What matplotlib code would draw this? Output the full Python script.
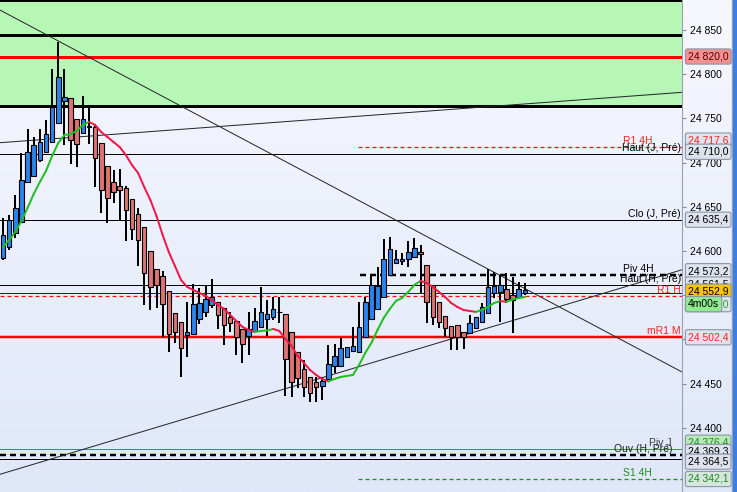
import numpy as np
import matplotlib.pyplot as plt
import matplotlib.transforms as mtransforms
from matplotlib.collections import LineCollection
from matplotlib.patches import Rectangle
from matplotlib.ticker import FuncFormatter

plt.rcParams['font.family'] = ['Liberation Sans', 'DejaVu Sans']
plt.rcParams['lines.scale_dashes'] = False

# ==========================================================
# DATA
# ==========================================================

opens = [24592, 24605, 24620, 24633, 24678, 24685, 24703, 24712, 24723, 24745,
         24770, 24773, 24749, 24733.5, 24741, 24740, 24722, 24696, 24678, 24674,
         24671, 24659, 24642, 24627, 24600, 24580, 24572, 24555, 24530, 24520,
         24505, 24506, 24523, 24531, 24539, 24542, 24536, 24525, 24521, 24512,
         24504, 24509.6, 24514, 24523, 24525, 24531, 24529, 24508, 24486, 24467,
         24457.5, 24452, 24447, 24455, 24470, 24470, 24480, 24487, 24486, 24503,
         24523, 24534.5, 24548, 24573, 24586.5, 24589, 24591, 24593, 24599, 24584,
         24562, 24542, 24526.5, 24515, 24516, 24508, 24507, 24513, 24520, 24530,
         24552.5, 24554, 24557, 24550, 24548, 24552.5]

highs = [24637, 24641, 24663, 24711, 24738, 24729, 24738, 24748, 24806, 24836,
         24806, 24773, 24749, 24775, 24763, 24744, 24722, 24696, 24692, 24693,
         24674, 24659, 24649, 24627, 24600, 24580, 24577, 24555, 24530, 24520,
         24542, 24563, 24558, 24560.5, 24568, 24542, 24536, 24531, 24521, 24512,
         24531, 24536, 24559, 24545, 24548, 24548, 24529, 24508, 24486, 24477,
         24457.5, 24457.5, 24457.5, 24494, 24495, 24502, 24491.5, 24514, 24542, 24548,
         24573, 24582, 24614, 24616, 24601, 24598, 24611, 24615, 24607, 24584,
         24562, 24542, 24526.5, 24515, 24516, 24508, 24528, 24525, 24541, 24580,
         24576, 24573, 24575, 24571, 24565, 24564]

lows = [24590, 24601, 24615, 24632, 24677, 24684, 24701, 24711, 24723, 24745,
        24720, 24698, 24695, 24733.5, 24721, 24672, 24643, 24632, 24654, 24634,
        24611, 24612.5, 24583, 24539, 24533, 24536, 24503, 24486, 24496, 24457.5,
        24480, 24506, 24517.5, 24525, 24536, 24512, 24494, 24508, 24482, 24473,
        24482, 24509.6, 24514, 24504, 24522, 24519, 24436, 24435, 24445, 24435,
        24429, 24429, 24431.5, 24455, 24462, 24470, 24480, 24487, 24486, 24503,
        24523, 24534.5, 24548, 24573, 24586.5, 24584, 24582, 24593, 24552.5, 24519,
        24516, 24513, 24503, 24488, 24488, 24489, 24507, 24513, 24520, 24530,
        24547, 24520, 24541, 24507, 24548, 24550]

closes = [24618, 24635, 24649, 24680, 24712, 24720, 24723, 24732, 24763, 24797,
          24774, 24726, 24721, 24749, 24740, 24705, 24669, 24660, 24667, 24669,
          24646, 24625, 24612.5, 24575, 24559, 24562, 24540, 24506, 24508, 24490,
          24508, 24540, 24541, 24546, 24548, 24528, 24516, 24519, 24503, 24495,
          24512, 24521, 24531, 24529, 24534.5, 24531, 24478, 24452, 24456, 24446,
          24439, 24446, 24453, 24472, 24481, 24490, 24491.5, 24492.6, 24514, 24542,
          24562, 24560.5, 24591, 24602, 24591, 24591, 24599, 24603, 24597, 24542,
          24525, 24520, 24513, 24503, 24503, 24503, 24519, 24525, 24537, 24559,
          24560.5, 24562, 24546, 24545, 24557, 24556]

ma_line = [24604.6, 24612.5, 24621.5, 24634.0, 24648.7, 24664.5, 24678.1, 24690.5, 24707.5, 24722.2,
           24731.2, 24732.4, 24735.8, 24742.6, 24746.0, 24742.6, 24734.6, 24729.0, 24723.3, 24717.7,
           24708.6, 24697.3, 24688.3, 24672.4, 24657.7, 24639.6, 24618.1, 24598.9, 24583.1, 24567.2,
           24559.3, 24555.9, 24552.5, 24549.2, 24544.6, 24539.0, 24534.5, 24527.7, 24520.9, 24514.1,
           24510.7, 24508.4, 24509.6, 24510.1, 24511.8, 24509.6, 24500.5, 24492.6, 24481.3, 24473.4,
           24465.5, 24459.8, 24455.3, 24452.5, 24455.3, 24457.5, 24458.7, 24459.8, 24471.1, 24484.7,
           24496.0, 24510.7, 24524.3, 24534.5, 24543.5, 24546.9, 24553.7, 24561.6, 24566.1, 24563.9,
           24559.3, 24553.7, 24548.0, 24541.2, 24536.7, 24533.3, 24532.2, 24531.1, 24533.3, 24536.7,
           24541.2, 24543.5, 24542.4, 24545.2, 24546.9, 24548.0]

zone_low, zone_high = 24764.4, 24882.8

level_prices = [24844.3, 24820.0, 24717.6, 24710.0, 24635.4, 24573.2, 24561.5,
                24552.9, 24549.0, 24502.4, 24376.4, 24369.3, 24364.5, 24342.1]
level_names = ["", "", "R1 4H", "Haut (J, Pré)", "Clo (J, Pré)", "Piv 4H",
               "Haut (H, Pré)", "", "R1 H", "mR1 M", "Piv J", "Ouv (H, Pré)",
               "", "S1 4H"]

ma_last = 24548.0
countdown = "4m00s"

# trend lines as (bar index, price) end points
trend_lines = [((-0.5, 24872.6), (110.6, 24463.1)),
               ((-0.5, 24722.5), (110.6, 24779.5)),
               ((-0.5, 24347.4), (110.6, 24578.8))]

y_ticks = list(range(24400, 24851, 50))

# ==========================================================
# LAYOUT / STYLE
# ==========================================================

W, H = 737, 492
PLOT_W = 682
BAR_STEP = 6.14


def px_x(px):
    return (px - 3) / BAR_STEP


def pt(px):
    return px * 0.72


# colour, width px, dash px, start px, label anchor, label colour
level_style = [
    ("black", 3, None, 0, None, None),
    ("#ff0000", 3, None, 0, None, None),
    ("#ff1010", 1.3, (4, 3), 358, "L", "#ff2020"),
    ("black", 1, None, 0, "R", "black"),
    ("black", 1, None, 0, "R", "black"),
    ("black", 2.5, (6, 4), 360, "L", "black"),
    ("black", 1, None, 0, "R", "black"),
    ("#0000ff", 1, None, 0, None, None),
    ("#ff1010", 1.3, (4, 3), 0, "R", "#ff2020"),
    ("#ff0000", 2.5, None, 0, "R", "#ff2020"),
    ("#3c9c3c", 1, None, 0, "R2", "#404040"),
    ("black", 2.5, (6, 4), 0, "R2", "#202020"),
    ("black", 1, None, 0, None, None),
    ("#1c901c", 1.3, (4, 3), 358, "L", "#1c901c"),
]

# right-axis boxes: text colour, face colour, vertical nudge px (None = no box)
box_style = [
    None,
    ("#5a0000", "#f39090", 0),
    ("#ff2020", "#dde2ec", -6.5),
    ("black", "#dde2ec", -2),
    ("black", "#dde2ec", 0),
    ("black", "#dde2ec", -3.5),
    ("black", "#dde2ec", -0.5),
    ("black", "#f6c400", -1),
    None,
    ("#ff2020", "#dde2ec", 0),
    ("#1a8a1a", "#b8eab8", -6),
    ("black", "#dde2ec", -3),
    ("black", "#dde2ec", 2.5),
    ("#1a8a1a", "#d5e6dc", 0),
]

BULL = "#2a84ee"
BEAR = "#e07272"

fig = plt.figure(figsize=(W / 100, H / 100), dpi=100)

# background gradient
bg = fig.add_axes([0, 0, 1, 1], zorder=-10)
top = np.array([247, 248, 254]) / 255
bot = np.array([223, 231, 249]) / 255
g = np.linspace(0, 1, 256)[:, None, None]
bg.imshow(top + (bot - top) * g, aspect="auto", extent=[0, 1, 0, 1])
bg.set_axis_off()

fig.patches.append(Rectangle((732 / W, 0), 1 / W, 1, transform=fig.transFigure,
                             color="#a0a8b8", zorder=5))
fig.patches.append(Rectangle((733 / W, 0), 4 / W, 1, transform=fig.transFigure,
                             color="#3b7fe4", zorder=5))

ax = fig.add_axes([0, 0, PLOT_W / W, 1])
ax.patch.set_alpha(0)
ax.set_xlim(px_x(0), px_x(PLOT_W))
ax.set_ylim(24850 - 462 * 1.1312, 24850 + 30 * 1.1312)

for s in ["top", "left", "bottom"]:
    ax.spines[s].set_visible(False)
ax.spines["right"].set_color("#98a2b2")
ax.spines["right"].set_linewidth(0.8)
ax.set_xticks([])
ax.yaxis.tick_right()
ax.set_yticks(y_ticks)
ax.yaxis.set_major_formatter(FuncFormatter(lambda v, p: f"{int(v):,}".replace(",", " ")))
ax.tick_params(axis="y", direction="out", length=3, width=0.8, color="#7f8a9c",
               labelsize=7.5, pad=2.5, labelcolor="black")

# supply zone
ax.axhspan(zone_low, ax.get_ylim()[1], color="#b6f7b6", lw=0, zorder=0.5)
ax.axhline(zone_high, color="black", lw=pt(2), zorder=1)
ax.axhline(zone_low, color="black", lw=pt(3), zorder=1)

# horizontal levels
x_left, x_right = ax.get_xlim()
lab_tr = mtransforms.blended_transform_factory(ax.transAxes, ax.transData)
for price, name, st in zip(level_prices, level_names, level_style):
    col, lw, dash, start, anchor, lcol = st
    x0 = px_x(start) if start else x_left
    line, = ax.plot([x0, x_right], [price, price], color=col, lw=pt(lw), zorder=1.5)
    if dash:
        line.set_dashes([pt(d) for d in dash])
    if name and anchor:
        if anchor == "L":
            xa, ha = 623 / PLOT_W, "left"
        elif anchor == "R":
            xa, ha = 681 / PLOT_W, "right"
        else:
            xa, ha = 672 / PLOT_W, "right"
        ax.annotate(name, xy=(xa, price), xycoords=lab_tr, xytext=(0, 0.8),
                    textcoords="offset points", ha=ha, va="bottom",
                    color=lcol, fontsize=7.5, annotation_clip=False, zorder=6)

# trend lines
for (x0, y0), (x1, y1) in trend_lines:
    ax.plot([x0, x1], [y0, y1], color="#262626", lw=pt(1), zorder=2)

# candles
idx = np.arange(len(opens))
o = np.array(opens)
c = np.array(closes)
ax.vlines(idx, lows, highs, color="black", lw=pt(2), zorder=3)
ax.bar(idx, np.abs(c - o), bottom=np.minimum(o, c), width=0.74,
       color=np.where(c > o, BULL, BEAR), edgecolor="black", linewidth=pt(1.1), zorder=4)

# moving average, coloured by slope
ma = np.array(ma_line)
pts = np.column_stack([idx, ma])
segs = np.stack([pts[:-1], pts[1:]], axis=1)
seg_cols = np.where(np.diff(ma) >= 0, "#1fc01f", "#f0184a")
ax.add_collection(LineCollection(segs, colors=seg_cols, linewidths=pt(2), zorder=5,
                                 capstyle="round", joinstyle="round"))

# right-axis value boxes
box_tr = mtransforms.blended_transform_factory(fig.transFigure, ax.transData)


def value_box(text, price, tcol, fcol, nudge):
    ax.annotate(text, xy=(688 / W, price), xycoords=box_tr,
                xytext=(0, -pt(nudge)), textcoords="offset points",
                ha="left", va="center", color=tcol, fontsize=7.5,
                annotation_clip=False, zorder=7,
                bbox=dict(boxstyle="round,pad=0.25,rounding_size=0.2",
                          fc=fcol, ec="#8c96a8", lw=0.8))


def fmt(p):
    return f"{p:,.1f}".replace(",", " ").replace(".", ",")


for price, bs in zip(level_prices, box_style):
    if bs is None:
        continue
    value_box(fmt(price), price, *bs)

current = level_prices[7]
value_box(fmt(ma_last), current, "#1fb01f", "#dde2ec", 11.5)
value_box(countdown, current, "black", "#90ea90", 11.5)

fig.savefig("out.png", dpi=100)
